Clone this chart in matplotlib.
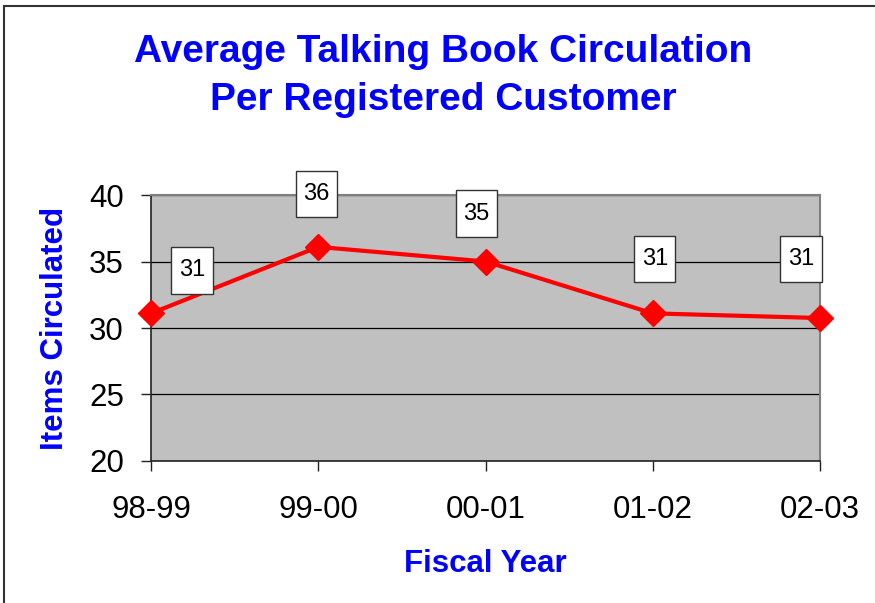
import matplotlib.pyplot as plt
from matplotlib.patches import Rectangle
from matplotlib.path import Path

plt.rcParams['font.family'] = ['Liberation Sans', 'DejaVu Sans']

years = ['98-99', '99-00', '00-01', '01-02', '02-03']
items = [31.1, 36.1, 35.0, 31.1, 30.75]
labels = ['31', '36', '35', '31', '31']


def label_box(x0, y0, width, height, mutation_size):
    # taller than wide padding, like the spreadsheet data labels
    px = 0.32 * mutation_size
    py = 0.52 * mutation_size
    x0, y0 = x0 - px, y0 - py
    x1, y1 = x0 + width + 2 * px, y0 + height + 2 * py
    return Path([(x0, y0), (x1, y0), (x1, y1), (x0, y1), (x0, y0)], closed=True)


fig = plt.figure(figsize=(8.75, 6.03), dpi=100)
ax = fig.add_axes([0.1726, 0.2355, 0.7646, 0.4411])
ax.set_facecolor('#C0C0C0')

x = list(range(len(years)))
ax.plot(x, items, color='red', lw=3, marker='D', markersize=13,
        markeredgecolor='red', zorder=3, clip_on=False)

# label boxes sit above each point (offsets in points)
offsets = [(29.5, 31), (-1.4, 38), (-6.5, 34.5), (1.4, 39), (-13.7, 42.5)]
for xi, yi, lab, off in zip(x, items, labels, offsets):
    ax.annotate(lab, (xi, yi), xytext=off, textcoords='offset points',
                ha='center', va='center', fontsize=17,
                bbox=dict(boxstyle=label_box, fc='white', ec='#333333', lw=1),
                zorder=4, annotation_clip=False)

ax.set_xlim(0, len(years) - 1)
ax.set_ylim(20, 40)
ax.set_yticks([20, 25, 30, 35, 40])
ax.set_xticks(x)
ax.set_xticklabels(years)
ax.tick_params(axis='both', labelsize=22.5, direction='out', length=7.5, width=1, color='#222222')
ax.tick_params(axis='x', pad=17)
ax.tick_params(axis='y', pad=12)
ax.yaxis.grid(True, color='black', lw=0.9)
ax.set_axisbelow(True)
for s in ['top', 'right']:
    ax.spines[s].set_color('#808080')
    ax.spines[s].set_linewidth(1.5)
for s in ['left', 'bottom']:
    ax.spines[s].set_color('#222222')
    ax.spines[s].set_linewidth(1.2)

ax.set_xlabel('Fiscal Year', color='#0000FF', fontsize=22.5, fontweight='bold', labelpad=17)
ax.set_ylabel('Items Circulated', color='#0000FF', fontsize=22.5, fontweight='bold', labelpad=14)

fig.text(0.507, 0.874, 'Average Talking Book Circulation\nPer Registered Customer',
         ha='center', va='center', color='#0000FF', fontsize=28, fontweight='bold',
         linespacing=1.42)

fig.patches.append(Rectangle((0.005, -0.05), 1.1, 1.04, transform=fig.transFigure,
                             fill=False, ec='#333333', lw=1.5))

fig.savefig('out.png', dpi=100)
